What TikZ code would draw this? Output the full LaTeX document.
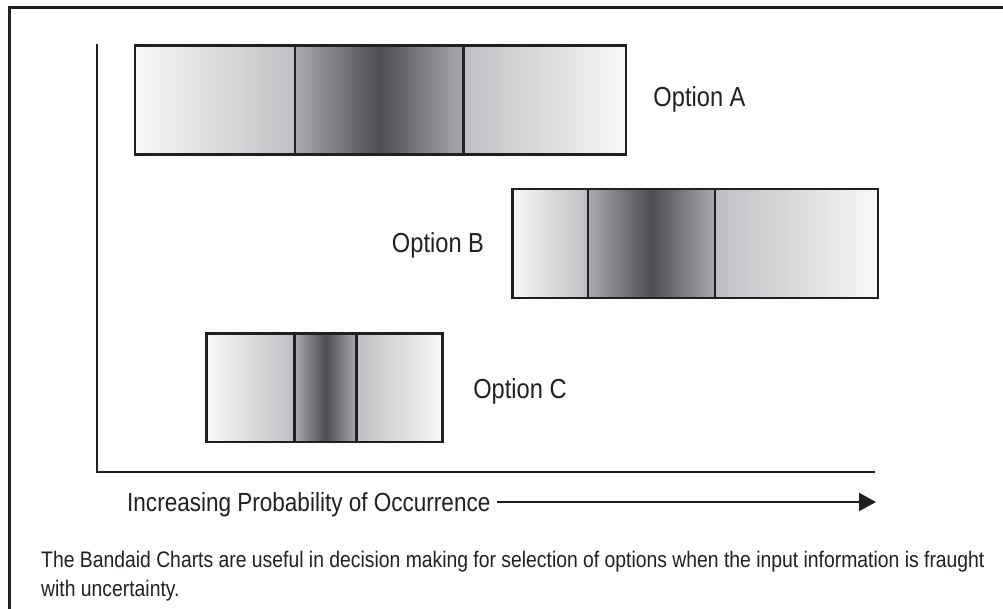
\documentclass[tikz,border=0pt]{standalone}
\usepackage{fontspec}
\setmainfont{Liberation Sans}[FakeStretch=0.86]
\usetikzlibrary{arrows.meta}

\definecolor{ink}{HTML}{231F20}
\definecolor{paleend}{HTML}{F8F8F8}
\definecolor{edgegray}{HTML}{BDBFC2}
\definecolor{coregray}{HTML}{A8AAAD}
\definecolor{coredark}{HTML}{4D4E52}

% dark band in the middle, fading to grey on both sides
\pgfdeclarehorizontalshading{coreband}{100bp}{%
  color(0bp)=(coregray); color(25bp)=(coregray);
  color(50bp)=(coredark);
  color(75bp)=(coregray); color(100bp)=(coregray)}

\tikzset{
  seg/.style={draw=ink, line width=2.2pt, inner sep=0pt, outer sep=0pt},
  lowend/.style={seg, left color=paleend, right color=edgegray},
  core/.style={seg, shading=coreband},
  highend/.style={seg, left color=edgegray, right color=paleend},
  optlabel/.style={text=ink, font=\fontsize{27.5}{32}\selectfont, anchor=base, inner sep=0pt},
  axislabel/.style={text=ink, font=\fontsize{26.2}{30}\selectfont, anchor=base west, inner sep=0pt},
  note/.style={text=ink, font=\fontsize{22.5}{29}\selectfont, anchor=base west, inner sep=0pt},
  axisline/.style={draw=ink, line width=2.4pt},
  arrowline/.style={draw=ink, line width=2pt, -{Triangle[length=17pt,width=18pt]}},
}

\begin{document}
\begin{tikzpicture}[x=1pt, y=-1pt]
  \useasboundingbox (0,0) rectangle (1003,609);

  % open frame: top and left edges only
  \draw[ink, line width=3pt] (9.8,609) -- (9.8,7.8) -- (1003,7.8);

  % axes
  \coordinate (ytop) at (97,44);
  \coordinate (origin) at (97,472);
  \coordinate (xend) at (875,472);
  \draw[axisline] (ytop) -- (origin) -- (xend);

  % Option A band
  \node[lowend,  minimum width=160pt,   minimum height=109pt] (a1) at (215,100) {};
  \node[core,    minimum width=168.5pt, minimum height=109pt] (a2) at (379.25,100) {};
  \node[highend, minimum width=162.5pt, minimum height=109pt] (a3) at (544.75,100) {};
  \node[optlabel] (la) at (699.5,107) {Option A};

  % Option B band
  \node[lowend,  minimum width=75.5pt, minimum height=109pt] (b1) at (550.25,243.5) {};
  \node[core,    minimum width=127pt,  minimum height=109pt] (b2) at (651.5,243.5) {};
  \node[highend, minimum width=163pt,  minimum height=109pt] (b3) at (796.5,243.5) {};
  \node[optlabel] (lb) at (438,253) {Option B};

  % Option C band
  \node[lowend,  minimum width=88pt, minimum height=108.5pt] (c1) at (250.5,387.75) {};
  \node[core,    minimum width=62pt, minimum height=108.5pt] (c2) at (325.5,387.75) {};
  \node[highend, minimum width=86pt, minimum height=108.5pt] (c3) at (399.5,387.75) {};
  \node[optlabel] (lc) at (520,398) {Option C};

  % horizontal axis caption with arrow
  \node[axislabel] (xlabel) at (127,511) {Increasing Probability of Occurrence};
  \coordinate (arrowstart) at (497,502);
  \coordinate (arrowtip) at (876,502);
  \draw[arrowline] (arrowstart) -- (arrowtip);

  % explanatory note
  \node[note] (note1) at (41,567) {The Bandaid Charts are useful in decision making for selection of options when the input information is fraught};
  \node[note] (note2) at (41,596) {with uncertainty.};
\end{tikzpicture}
\end{document}
